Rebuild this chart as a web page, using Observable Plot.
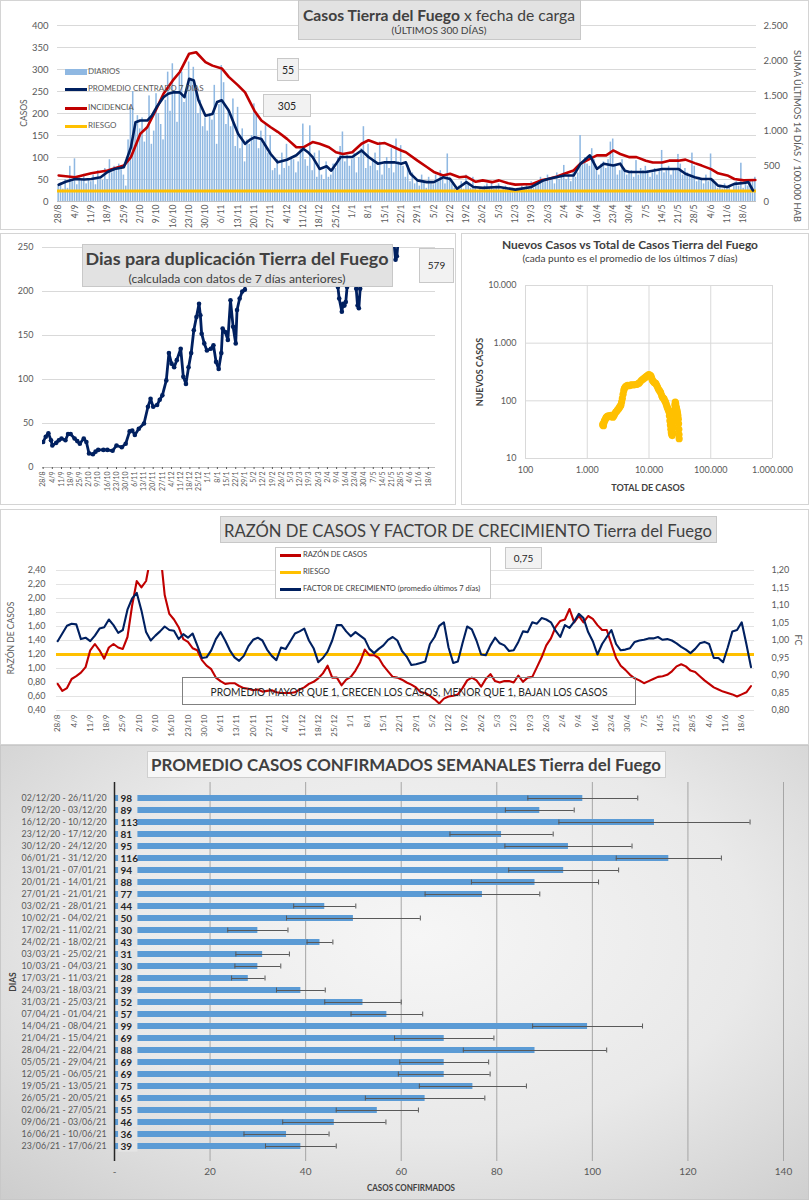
<!DOCTYPE html>
<html lang="es"><head><meta charset="utf-8">
<script src="https://cdn.jsdelivr.net/npm/d3@7"></script>
<script src="https://cdn.jsdelivr.net/npm/@observablehq/plot@0.6"></script>
<style>
html,body{margin:0;padding:0;background:#fff;}
#root{position:relative;width:809px;height:1200px;overflow:hidden;font-family:Lato,"Open Sans",sans-serif;}
.box{position:absolute;box-sizing:border-box;}
.plotwrap{position:absolute;}
.plotwrap svg{display:block;overflow:visible;max-width:none;}
</style></head><body><div id="root"></div>
<script>
// ================= DATA =================
const inicio = "2020-08-28"; // first day of the 300-day window
// daily cases (DIARIOS), one per day from 28/8/2020
const diarios = [
 35,42,28,50,30,80,45, 97,38,55,48,62,40,52, 45,60,38,70,55,48,75, 50,95,65,80,70,85,72,
 60,35,140,215,250,180,195, 165,190,135,170,240,130,160, 245,200,175,140,230,294,205,
 313,250,180,290,294,225,240, 317,275,305,250,200,230,170, 190,160,200,185,264,130,220,
 309,270,175,210,170,233,125, 214,120,165,90,140,130,150, 222,200,120,160,130,176,110,
 150,70,75,95,60,110,75, 130,80,100,95,65,90,120, 176,95,80,172,70,110,55,
 115,60,50,90,55,60,85, 75,100,125,158,90,105,80, 95,110,65,100,120,170,75,
 130,80,95,110,70,135,60, 85,100,75,120,65,142,90, 127,80,55,82,45,65,40,
 50,35,60,45,30,55,40, 38,60,45,70,50,40,108, 55,40,30,25,35,45,28,
 60,40,30,55,35,25,30, 20,35,40,30,45,28,35, 40,25,30,35,28,22,30,
 25,30,20,35,28,40,30, 45,30,35,40,55,50,45, 60,48,55,40,65,50,60,
 82,50,60,45,70,55,65, 150,90,100,85,80,120,95, 70,60,85,90,75,95,135,
 142,80,60,70,95,75,60, 65,70,55,93,60,75,70, 80,70,55,65,75,60,70,
 116,65,70,80,60,75,70, 107,85,60,75,65,55,110, 80,45,55,50,40,60,45,
 108,50,40,30,35,28,40, 30,35,25,40,45,35,87, 30,40,35,45,48,55
];
const promFechas = ["28/8","31/8","4/9","8/9","11/9","15/9","18/9","21/9","25/9","28/9","30/9","2/10","5/10","7/10","9/10","12/10","14/10","16/10","19/10","21/10","23/10","25/10","27/10","30/10","2/11","4/11","6/11","9/11","11/11","13/11","16/11","18/11","20/11","23/11","25/11","27/11","30/11","2/12","4/12","8/12","11/12","13/12","15/12","18/12","21/12","23/12","25/12","27/12","1/1","5/1","8/1","12/1","15/1","19/1","22/1","24/1","26/1","29/1","2/2","5/2","9/2","12/2","15/2","19/2","22/2","26/2","5/3","12/3","19/3","24/3","26/3","2/4","6/4","9/4","13/4","16/4","19/4","23/4","26/4","28/4","30/4","7/5","14/5","21/5","24/5","28/5","31/5","4/6","7/6","11/6","14/6","18/6","20/6","22/6"];
const promValores = [38,45,51,50,51,55,67,74,78,123,180,184,184,195,214,237,245,248,248,237,279,275,230,195,199,226,230,207,180,154,131,140,146,142,125,108,89,92,95,105,120,112,101,74,80,70,85,101,101,116,101,86,89,89,86,89,63,48,44,44,55,51,29,44,33,31,33,27,33,48,51,59,59,86,105,74,86,82,86,70,67,67,74,74,63,55,51,51,36,33,40,42,44,25];
// INCIDENCIA: suma últimos 14 días / 100.000 hab (right axis)
const incFechas = ["28/8","4/9","11/9","18/9","25/9","28/9","2/10","5/10","9/10","12/10","16/10","19/10","23/10","26/10","30/10","2/11","6/11","9/11","13/11","16/11","20/11","23/11","27/11","30/11","4/12","8/12","11/12","15/12","18/12","22/12","25/12","28/12","1/1","5/1","8/1","12/1","15/1","19/1","22/1","24/1","29/1","2/2","5/2","9/2","12/2","16/2","19/2","23/2","26/2","2/3","5/3","9/3","12/3","16/3","19/3","23/3","26/3","30/3","2/4","6/4","9/4","13/4","16/4","20/4","23/4","26/4","30/4","3/5","7/5","10/5","14/5","17/5","21/5","24/5","28/5","31/5","4/6","7/6","11/6","14/6","18/6","23/6"];
const incValores = [370,345,400,440,510,630,960,1055,1320,1530,1720,1840,2100,2120,1980,1930,1890,1770,1650,1550,1290,1150,1055,990,890,770,770,845,820,770,700,675,700,820,870,820,830,770,725,700,580,490,420,370,395,345,355,280,300,275,300,260,240,245,245,300,320,355,395,440,540,605,655,655,725,675,630,630,580,555,555,580,580,595,545,510,460,400,370,320,300,305];
const riesgoIncidencia = 150;
const ultimoDiario = 55, ultimaIncidencia = 305;

// Días para duplicación
const dupFechas = ["28/8","30/8","1/9","3/9","4/9","7/9","9/9","11/9","14/9","16/9","18/9","21/9","23/9","25/9","28/9","30/9","2/10","5/10","7/10","9/10","13/10","16/10","20/10","23/10","27/10","30/10","2/11","4/11","6/11","9/11","13/11","16/11","18/11","20/11","23/11","25/11","27/11","30/11","2/12","4/12","6/12","8/12","11/12","13/12","15/12","17/12","19/12","21/12","23/12","25/12","26/12","27/12","29/12","31/12","3/1","5/1","7/1","9/1","11/1","12/1","14/1","16/1","18/1","20/1","22/1","23/1","25/1","27/1","29/1","1/2","5/2","12/2","19/2","26/2","5/3","12/3","19/3","26/3","2/4","6/4","9/4","10/4","11/4","13/4","14/4","15/4","16/4","17/4","19/4","21/4","24/4","25/4","26/4","27/4","29/4","3/5","10/5","17/5","22/5","24/5","25/5","27/5","3/6","10/6","17/6","23/6"];
const dupValores = [29,35,39,31,25,28,31,33,31,38,38,33,30,27,33,29,16,15,18,20,20,20,19,25,23,27,41,42,37,44,50,69,78,69,71,77,82,99,130,118,114,122,135,103,95,114,130,156,171,186,173,152,141,133,135,139,120,112,130,158,154,145,190,160,141,179,192,200,202,280,350,420,480,520,600,640,560,420,300,265,262,205,192,177,186,184,188,205,265,290,203,184,181,203,270,330,380,320,270,236,240,275,380,470,540,579];
const ultimaDuplicacion = 579;

// Nuevos casos vs total de casos (promedio 7 días)
const totalCasos = [1780,1800,1830,1870,1900,1950,2000,2050,2120,2200,2280,2350,2430,2520,2600,2700,2800,2900,3000,3100,3200,3300,3400,3500,3600,3700,3800,3900,4000,4150,4300,4500,4700,4900,5100,5300,5600,5900,6200,6500,6800,7100,7500,7900,8300,8700,9100,9500,9900,10300,10700,11000,11300,11600,12000,12400,12800,13200,13700,14200,14800,15400,16000,16500,17000,17500,18000,18500,19000,19500,20000,20500,21000,21400,21800,22200,22600,23000,23400,23800,24200,24600,25000,25400,25800,26200,26600,27000,27400,27800,28200,28600,29000,29400,29800,30100,30400,30600,30800];
const nuevosCasos = [38,40,37,42,45,47,50,52,54,55,53,55,56,54,52,55,60,64,66,70,72,76,80,84,95,110,130,150,165,175,180,185,183,186,188,190,188,190,192,195,200,210,225,235,245,255,265,275,285,280,270,250,230,220,210,205,200,190,175,160,150,140,125,115,112,108,100,95,88,80,75,70,65,55,45,38,32,28,26,25,28,35,45,58,70,85,95,90,80,75,70,65,60,55,48,40,32,26,22];

// Razón de casos y factor de crecimiento: one value every 2 days from 28/8
const pasoDias = 2;
const razonCasos = [
 0.78,0.68,0.72,0.85,0.89,0.94,1.02,1.26,1.35,1.26,
 1.14,1.30,1.35,1.30,1.28,1.45,1.90,2.25,2.16,2.25,
 2.60,2.90,2.70,2.05,1.78,1.70,1.59,1.42,1.38,1.29,
 1.26,1.12,1.04,0.99,0.87,0.82,0.78,0.79,0.79,0.75,
 0.72,0.71,0.69,0.70,0.67,0.68,0.69,0.66,0.65,0.65,
 0.65,0.66,0.70,0.73,0.78,0.81,0.86,0.93,1.04,0.87,
 0.87,0.76,0.84,0.88,0.97,1.09,1.27,1.19,1.19,1.15,
 1.04,0.96,0.88,0.87,0.84,0.80,0.77,0.73,0.66,0.65,
 0.61,0.56,0.50,0.57,0.60,0.61,0.63,0.72,0.83,0.87,
 0.83,0.74,0.85,0.92,0.82,0.80,0.82,0.82,0.80,0.90,
 0.81,0.87,0.88,1.02,1.16,1.33,1.43,1.59,1.68,1.70,
 1.85,1.66,1.75,1.66,1.75,1.71,1.62,1.55,1.55,1.35,
 1.15,1.04,0.98,0.91,0.86,0.83,0.79,0.82,0.85,0.88,
 0.89,0.91,0.96,1.03,1.06,1.03,0.97,0.95,0.89,0.83,
 0.78,0.73,0.70,0.67,0.65,0.63,0.60,0.63,0.66,0.75
];
const factorCrecimiento = [
 0.998,1.020,1.042,1.048,1.046,1.004,1.008,0.998,1.014,1.034,
 1.038,1.060,1.044,1.022,1.030,1.088,1.120,1.136,1.086,1.024,
 1.000,1.014,1.026,1.040,1.030,1.028,1.004,1.018,1.008,1.020,
 0.986,0.950,0.952,0.972,1.004,1.024,1.000,0.972,0.952,0.942,
 0.956,0.984,1.002,1.008,1.000,0.974,0.956,0.944,0.980,0.976,
 0.998,1.020,1.026,1.034,1.000,0.978,0.938,0.950,0.968,1.000,
 1.044,1.044,1.026,1.012,1.024,1.014,1.004,0.976,0.964,0.976,
 0.986,1.002,1.010,1.000,0.970,0.954,0.930,0.932,0.936,0.940,
 0.990,1.010,1.042,1.052,0.980,0.936,0.940,0.992,1.040,1.032,
 1.000,0.960,0.958,0.986,1.008,0.992,0.986,0.970,0.972,0.996,
 1.026,1.024,1.052,1.048,1.064,1.060,1.052,1.028,1.010,1.044,
 1.036,1.054,1.076,1.064,1.024,0.998,0.960,0.990,1.010,1.030,
 0.990,0.972,0.974,0.978,0.996,1.000,1.002,1.006,1.006,1.010,
 1.002,1.004,1.000,0.992,0.982,0.974,0.964,0.976,0.992,0.996,
 0.990,0.950,0.950,0.938,0.980,1.026,1.030,1.052,0.990,0.924
];
const riesgoRazon = 1.2;
const ultimaRazon = "0,75";

// Promedio casos confirmados semanales
const semanas = ["02/12/20 - 26/11/20","09/12/20 - 03/12/20","16/12/20 - 10/12/20","23/12/20 - 17/12/20","30/12/20 - 24/12/20","06/01/21 - 31/12/20","13/01/21 - 07/01/21","20/01/21 - 14/01/21","27/01/21 - 21/01/21","03/02/21 - 28/01/21","10/02/21 - 04/02/21","17/02/21 - 11/02/21","24/02/21 - 18/02/21","03/03/21 - 25/02/21","10/03/21 - 04/03/21","17/03/21 - 11/03/21","24/03/21 - 18/03/21","31/03/21 - 25/03/21","07/04/21 - 01/04/21","14/04/21 - 08/04/21","21/04/21 - 15/04/21","28/04/21 - 22/04/21","05/05/21 - 29/04/21","12/05/21 - 06/05/21","19/05/21 - 13/05/21","26/05/21 - 20/05/21","02/06/21 - 27/05/21","09/06/21 - 03/06/21","16/06/21 - 10/06/21","23/06/21 - 17/06/21"];
const promedioSemanal = [98,89,113,81,95,116,94,88,77,44,50,30,43,31,30,28,39,52,57,99,69,88,69,69,75,65,55,46,36,39];
const errorSemanal = [11.5,7.2,20,10.8,13.3,11,11.5,13.3,12,6.5,14,6.3,2.7,5.6,4.8,3.5,5.1,8,7.5,11.5,10.4,15,9.3,9.6,11.2,12.5,8.6,10.8,8.9,7.4];

// ================= HELPERS =================
const root = document.getElementById("root");
const FONT = "Lato, 'Open Sans', sans-serif";
const DAY = 864e5;
const start = new Date(inicio + "T00:00:00Z");
const parseDM = s => { const [d, m] = s.split("/").map(Number); return new Date(Date.UTC(m >= 8 ? 2020 : 2021, m - 1, d)); };
const xDomain = [new Date(+start - DAY / 2), new Date(+start + 299.5 * DAY)];
const weekTicks = d3.range(0, 295, 7).map(i => new Date(+start + i * DAY));
const fmtDM = d3.utcFormat("%-d/%-m");
const loc = d3.formatLocale({decimal: ",", thousands: ".", grouping: [3], currency: ["$", ""]});
const fmtMil = loc.format(",");
const fmt2 = loc.format(".2f");

function rect(x, y, w, h, css) {
  const d = document.createElement("div"); d.className = "box";
  Object.assign(d.style, {left: x + "px", top: y + "px", width: w + "px", height: h + "px"}, css || {});
  root.appendChild(d); return d;
}
function txt(html, x, y, o = {}) {
  const d = document.createElement("div"); d.innerHTML = html;
  Object.assign(d.style, {position: "absolute", left: x + "px", top: y + "px", whiteSpace: "nowrap", fontFamily: FONT,
    fontSize: (o.size || 10) + "px", fontWeight: o.weight || "normal", color: o.color || "#595959", lineHeight: "1.15", transformOrigin: "0 0"});
  root.appendChild(d);
  const w = d.getBoundingClientRect().width;
  const sx = o.fit ? o.fit / w : 1;
  const ax = o.anchor === "start" ? "0%" : o.anchor === "end" ? "-100%" : "-50%";
  d.style.transform = `rotate(${o.rotate || 0}deg) scaleX(${sx}) translate(${ax},-50%)`;
  return d;
}
function place(svg, x, y) {
  const w = document.createElement("div"); w.className = "plotwrap";
  w.style.left = x + "px"; w.style.top = y + "px"; w.appendChild(svg); root.appendChild(w);
}
const frame = (x, y, w, h) => rect(x, y, w, h, {border: "1px solid #d4d4d4"});
const baseStyle = {background: "transparent", fontFamily: FONT, fontSize: "9px", color: "#595959", overflow: "visible"};

// ================= PANEL 1 : Casos =================
const diariosData = diarios.map((v, i) => ({date: new Date(+start + i * DAY), v}));
const promData = promFechas.map((f, i) => ({date: parseDM(f), v: promValores[i]}));
const incData = incFechas.map((f, i) => ({date: parseDM(f), v: incValores[i]}));
const K = 2500 / 400; // right axis / left axis

frame(0, 0, 809, 230);
place(Plot.plot({
  width: 809, height: 230, marginLeft: 57, marginRight: 53, marginTop: 25, marginBottom: 29,
  style: baseStyle,
  x: {type: "utc", domain: xDomain},
  y: {domain: [0, 400]},
  marks: [
    Plot.gridY({ticks: d3.range(0, 401, 50), stroke: "#d9d9d9", strokeOpacity: 1}),
    Plot.rectY(diariosData, {x1: d => new Date(+d.date - 0.33 * DAY), x2: d => new Date(+d.date + 0.33 * DAY), y: "v", fill: "#8fb8e2"}),
    Plot.ruleY([riesgoIncidencia / K], {stroke: "#ffc000", strokeWidth: 3}),
    Plot.line(incData, {x: "date", y: d => d.v / K, stroke: "#c00000", strokeWidth: 2.6}),
    Plot.line(promData, {x: "date", y: "v", stroke: "#002060", strokeWidth: 2.6}),
    Plot.ruleY([0], {stroke: "#bfbfbf"}),
    Plot.axisY({ticks: d3.range(0, 401, 50), tickSize: 0, tickPadding: 9, label: null, fontSize: 9.5}),
    Plot.axisY({anchor: "right", ticks: d3.range(0, 2501, 500).map(v => v / K), tickFormat: v => fmtMil(Math.round(v * K)), tickSize: 0, tickPadding: 7, label: null, fontSize: 9.5}),
    Plot.axisX({ticks: weekTicks, tickFormat: fmtDM, tickRotate: -90, tickSize: 0, tickPadding: 3, label: null, fontSize: 8.5})
  ]
}), 0, 0);
rect(298, 0, 283, 40, {background: "#e2e2e2", border: "1px solid #c8c8c8"});
txt("<b>Casos Tierra del Fuego</b> x fecha de carga", 439, 15, {size: 16, color: "#404040", fit: 272});
txt("(ÚLTIMOS 300 DÍAS)", 439, 31, {size: 9.5, color: "#404040", fit: 95});
const leg1 = [["DIARIOS", "#8fb8e2", 6, 72], ["PROMEDIO CENTRADO 7 DIAS", "#002060", 3, 89], ["INCIDENCIA", "#c00000", 3, 108], ["RIESGO", "#ffc000", 3, 126]];
leg1.forEach(([t, c, h, y]) => { rect(65, y - h / 2, 22, h, {background: c}); txt(t, 88, y, {size: 8, anchor: "start", color: "#595959"}); });
rect(277, 58, 22, 23, {background: "#f2f2f2", border: "1px solid #c8c8c8"});
txt(String(ultimoDiario), 288, 70, {size: 10.5, color: "#262626"});
rect(263, 94, 48, 23, {background: "#f2f2f2", border: "1px solid #c8c8c8"});
txt(String(ultimaIncidencia), 287, 106, {size: 10.5, color: "#262626"});
txt("CASOS", 25, 113, {size: 8.5, rotate: -90});
txt("SUMA ÚLTIMOS 14 DÍAS / 100.000 HAB", 797, 136, {size: 9.5, rotate: 90, fit: 172});

// ================= PANEL 2 : Duplicación =================
const dupData = dupFechas.map((f, i) => ({date: parseDM(f), v: dupValores[i]}));
frame(0, 233, 456, 272);
place(Plot.plot({
  width: 455, height: 272, marginLeft: 42, marginRight: 20, marginTop: 14, marginBottom: 38,
  style: baseStyle,
  x: {type: "utc", domain: xDomain},
  y: {domain: [0, 250]},
  marks: [
    Plot.gridY({ticks: d3.range(0, 251, 50), stroke: "#d9d9d9", strokeOpacity: 1}),
    Plot.ruleY([0], {stroke: "#bfbfbf"}),
    Plot.line(dupData, {x: "date", y: "v", stroke: "#002060", strokeWidth: 2.8, clip: true}),
    Plot.dot(dupData, {x: "date", y: "v", r: 2.3, fill: "#002060", clip: true}),
    Plot.axisY({ticks: d3.range(0, 251, 50), tickSize: 0, tickPadding: 9, label: null, fontSize: 9}),
    Plot.axisX({ticks: weekTicks, tickFormat: fmtDM, tickRotate: -90, tickSize: 2, tickPadding: 2, label: null, fontSize: 7})
  ]
}), 0, 233);
rect(82, 244, 311, 43, {background: "#e2e2e2", border: "1px solid #c8c8c8"});
txt("<b>Dias para duplicación Tierra del Fuego</b>", 237, 259, {size: 17.5, color: "#404040", fit: 303});
txt("(calculada con datos de 7 días anteriores)", 237, 279, {size: 11, color: "#404040", fit: 217});
rect(419, 248, 35, 35, {background: "#f2f2f2", border: "1px solid #c8c8c8"});
txt(String(ultimaDuplicacion), 436.5, 266, {size: 10, color: "#262626"});

// ================= PANEL 2b : Nuevos vs Total =================
const scatterData = totalCasos.map((t, i) => ({t, n: nuevosCasos[i]}));
frame(461, 233, 348, 272);
place(Plot.plot({
  width: 347, height: 272, marginLeft: 63, marginRight: 37, marginTop: 52, marginBottom: 47,
  style: baseStyle,
  x: {type: "log", domain: [100, 1e6]},
  y: {type: "log", domain: [10, 1e4]},
  marks: [
    Plot.gridX({ticks: [1e2, 1e3, 1e4, 1e5, 1e6], stroke: "#d9d9d9", strokeOpacity: 1}),
    Plot.gridY({ticks: [10, 100, 1e3, 1e4], stroke: "#d9d9d9", strokeOpacity: 1}),
    Plot.dot(scatterData, {x: "t", y: "n", r: 3.6, fill: "#ffc000"}),
    Plot.axisX({ticks: [1e2, 1e3, 1e4, 1e5, 1e6], tickFormat: fmtMil, tickSize: 0, tickPadding: 8, label: null, fontSize: 9}),
    Plot.axisY({ticks: [10, 100, 1e3, 1e4], tickFormat: fmtMil, tickSize: 0, tickPadding: 9, label: null, fontSize: 9})
  ]
}), 462, 233);
txt("<b>Nuevos Casos vs Total de Casos Tierra del Fuego</b>", 630, 245, {size: 11, color: "#404040", fit: 256});
txt("(cada punto es el promedio de los últimos 7 días)", 630, 260, {size: 8.5, color: "#404040", fit: 215});
txt("<b>NUEVOS CASOS</b>", 480, 372, {size: 9, rotate: -90, color: "#404040"});
txt("<b>TOTAL DE CASOS</b>", 648, 488, {size: 9, color: "#404040"});

// ================= PANEL 3 : Razón / FC =================
const FC2L = fc => 0.4 + (fc - 0.8) * 5;
const L2FC = l => 0.8 + (l - 0.4) / 5;
const razonData = razonCasos.map((v, i) => ({date: new Date(+start + i * pasoDias * DAY), v}));
const fcData = factorCrecimiento.map((v, i) => ({date: new Date(+start + i * pasoDias * DAY), v}));
frame(0, 509, 809, 236);
place(Plot.plot({
  width: 809, height: 236, marginLeft: 56, marginRight: 55, marginTop: 61, marginBottom: 35,
  style: baseStyle,
  x: {type: "utc", domain: xDomain},
  y: {domain: [0.4, 2.4]},
  marks: [
    Plot.gridY({ticks: d3.range(0.4, 2.41, 0.2), stroke: "#e3e3e3", strokeOpacity: 1}),
    Plot.ruleY([riesgoRazon], {stroke: "#ffc000", strokeWidth: 3}),
    Plot.line(razonData, {x: "date", y: "v", stroke: "#c00000", strokeWidth: 2.1, clip: true}),
    Plot.line(fcData, {x: "date", y: d => FC2L(d.v), stroke: "#002060", strokeWidth: 2.1, clip: true}),
    Plot.axisY({ticks: d3.range(0.4, 2.41, 0.2), tickFormat: fmt2, tickSize: 0, tickPadding: 11, label: null, fontSize: 9}),
    Plot.axisY({anchor: "right", ticks: d3.range(0.8, 1.201, 0.05).map(FC2L), tickFormat: l => fmt2(L2FC(l)), tickSize: 0, tickPadding: 17, label: null, fontSize: 9}),
    Plot.axisX({ticks: weekTicks, tickFormat: fmtDM, tickRotate: -90, tickSize: 0, tickPadding: 4, label: null, fontSize: 8})
  ]
}), 0, 509);
rect(220, 516, 497, 27, {background: "#e2e2e2", border: "1px solid #c8c8c8"});
txt("RAZÓN DE CASOS Y FACTOR DE CRECIMIENTO Tierra del Fuego", 468, 529.5, {size: 18, color: "#404040", fit: 488});
rect(275, 547, 216, 52, {background: "#ffffff", border: "1px solid #c8c8c8"});
[["RAZÓN DE CASOS", "#c00000", 555], ["RIESGO", "#ffc000", 572], ["FACTOR DE CRECIMIENTO (promedio últimos 7 días)", "#002060", 589]]
  .forEach(([t, c, y]) => { rect(280, y - 1.5, 21, 3, {background: c}); txt(t, 303, y, {size: 7.5, anchor: "start", color: "#404040"}); });
rect(505, 547, 37, 22, {background: "#f2f2f2", border: "1px solid #c8c8c8"});
txt(ultimaRazon, 523.5, 558.5, {size: 10, color: "#262626"});
txt("RAZÓN DE CASOS", 12, 638, {size: 8.5, rotate: -90});
txt("FC", 798, 640, {size: 9, rotate: 90});
rect(182, 677, 454, 28, {border: "1px solid #808080"});
txt("PROMEDIO MAYOR QUE 1, CRECEN LOS CASOS, MENOR QUE 1, BAJAN LOS CASOS", 409, 691.5, {size: 10.5, color: "#262626", fit: 397});

// ================= PANEL 4 : Promedio semanal =================
const semData = semanas.map((s, i) => ({s, v: promedioSemanal[i], e: errorSemanal[i]}));
rect(0, 745, 809, 455, {background: "radial-gradient(ellipse 75% 80% at 52% 42%, #f6f6f6 0%, #e9e9e9 55%, #cdcdcd 100%)", border: "1px solid #c8c8c8"});
place(Plot.plot({
  width: 809, height: 455, marginLeft: 114, marginRight: 26, marginTop: 37, marginBottom: 39,
  style: baseStyle,
  x: {domain: [0, 140]},
  y: {type: "band", domain: semanas, paddingInner: 0.5, paddingOuter: 0.25},
  marks: [
    Plot.gridX({ticks: d3.range(20, 141, 20), stroke: "#a6a6a6", strokeOpacity: 1}),
    Plot.barX(semData, {x: "v", y: "s", fill: "#5b9bd5"}),
    Plot.barX(semData, {x1: 0.85, x2: 4.9, y: "s", fill: "#e4e4e4", insetTop: -2.6, insetBottom: -2.6}),
    Plot.text(semData, {x: 0.85, y: "s", text: d => String(d.v), textAnchor: "start", dx: 2, fontWeight: "bold", fontSize: 10, fill: "#262626"}),
    Plot.ruleY(semData, {x1: d => d.v - d.e, x2: d => d.v + d.e, y: "s", stroke: "#595959", strokeWidth: 1}),
    Plot.tickX(semData, {x: d => d.v - d.e, y: "s", stroke: "#595959", insetTop: 0.5, insetBottom: 0.5}),
    Plot.tickX(semData, {x: d => d.v + d.e, y: "s", stroke: "#595959", insetTop: 0.5, insetBottom: 0.5}),
    Plot.ruleX([0], {stroke: "#262626", strokeWidth: 1.5}),
    Plot.axisY({tickSize: 0, tickPadding: 8, label: null, fontSize: 8.8, fill: "#595959"}),
    Plot.axisX({ticks: d3.range(0, 141, 20), tickFormat: d => d === 0 ? "-" : String(d), tickSize: 0, tickPadding: 6, label: null, fontSize: 10})
  ]
}), 0, 745);
rect(147, 751, 519, 27, {background: "#f7f7f7", border: "1px solid #cfcfcf"});
txt("<b>PROMEDIO CASOS CONFIRMADOS SEMANALES Tierra del Fuego</b>", 406, 764.5, {size: 17, color: "#404040", fit: 510});
txt("<b>DIAS</b>", 14, 982, {size: 8.5, rotate: -90, color: "#404040"});
txt("<b>CASOS CONFIRMADOS</b>", 411, 1188, {size: 9, color: "#404040", fit: 88});
</script></body></html>
